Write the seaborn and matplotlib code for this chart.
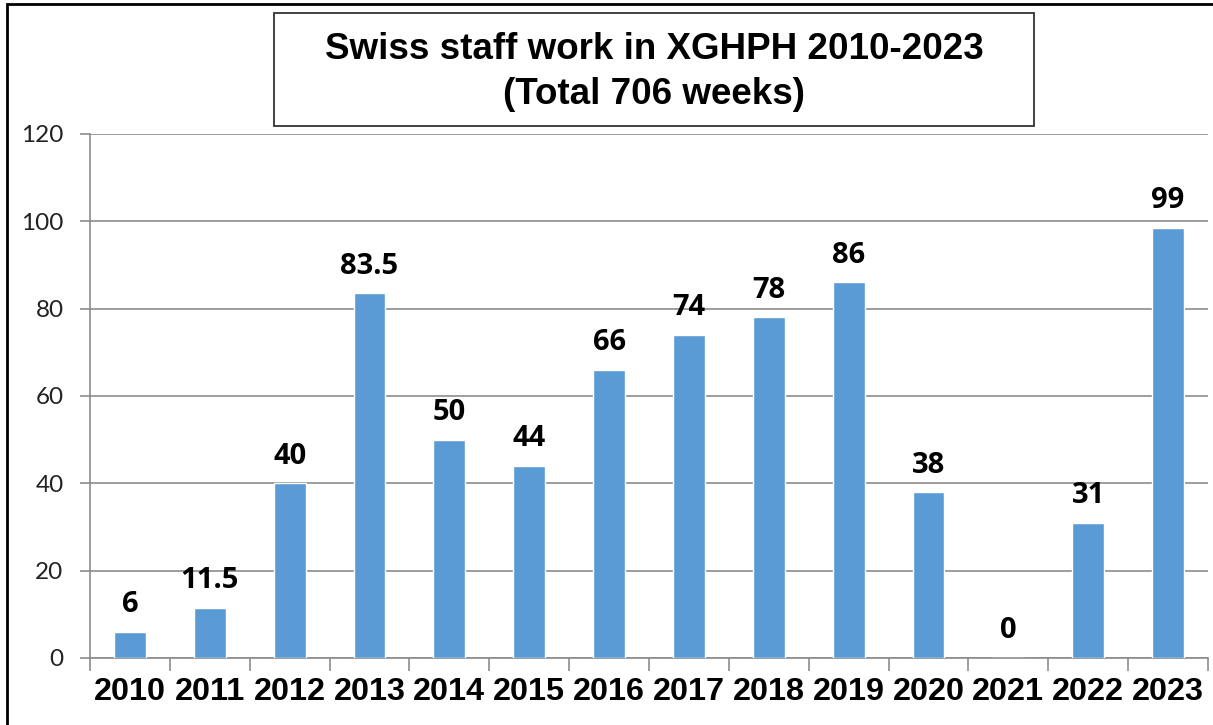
import matplotlib
matplotlib.use("Agg")
import matplotlib.pyplot as plt
import seaborn as sns
import pandas as pd
from matplotlib.patches import Rectangle

years = ["2010", "2011", "2012", "2013", "2014", "2015", "2016",
         "2017", "2018", "2019", "2020", "2021", "2022", "2023"]
weeks = [6, 11.5, 40, 83.5, 50, 44, 66, 74, 78, 86, 38, 0, 31, 98.5]
value_labels = ["6", "11.5", "40", "83.5", "50", "44", "66",
                "74", "78", "86", "38", "0", "31", "99"]
title_text = "Swiss staff work in XGHPH 2010-2023\n(Total 706 weeks)"
y_ticks = [0, 20, 40, 60, 80, 100, 120]

sns.set_theme(style="white")
plt.rcParams['font.family'] = ['Liberation Sans', 'DejaVu Sans']

df = pd.DataFrame({"year": years, "weeks": weeks})

W, H = 1213, 725
fig = plt.figure(figsize=(W / 100, H / 100), dpi=100)
ax = fig.add_axes([90 / W, 1 - 658 / H, (1208 - 90) / W, (658 - 134) / H])

sns.barplot(data=df, x="year", y="weeks", color="#5B9BD5", width=0.4,
            saturation=1, ax=ax, zorder=3)

ax.set_ylim(0, 120)
ax.set_xlim(-0.5, len(years) - 0.5)
ax.set_yticks(y_ticks)
ax.set_yticklabels([str(t) for t in y_ticks], fontsize=17.5, color="#222222",
                   family=["Lato", "DejaVu Sans"])
ax.yaxis.grid(True, color="#8c8c8c", linewidth=1.2, zorder=0)
ax.set_axisbelow(True)
ax.set_xlabel("")
ax.set_ylabel("")

for s in ["top", "right"]:
    ax.spines[s].set_visible(False)
for s in ["left", "bottom"]:
    ax.spines[s].set_color("#8c8c8c")
    ax.spines[s].set_linewidth(1.2)

ax.tick_params(axis="y", which="major", length=7, width=1.2, color="#8c8c8c",
               direction="out", pad=12, left=True)
ax.set_xticks(range(len(years)))
ax.set_xticklabels(years, fontsize=23.3, fontweight="bold", color="black")
ax.tick_params(axis="x", which="major", length=0, pad=14)
ax.set_xticks([i - 0.5 for i in range(len(years) + 1)], minor=True)
ax.tick_params(axis="x", which="minor", length=9, width=1.2, color="#8c8c8c",
               direction="out", bottom=True)

for i, (v, lab) in enumerate(zip(weeks, value_labels)):
    ax.annotate(lab, (i, v), xytext=(0, 9), textcoords="offset points",
                ha="center", va="bottom", fontsize=21, fontweight="bold",
                color="black", family=["Open Sans", "DejaVu Sans"])

# title box
fig.patches.append(Rectangle((274 / W, 1 - 126 / H), (1034 - 274) / W, (126 - 13) / H,
                             transform=fig.transFigure, fill=False,
                             edgecolor="#333333", linewidth=1.3))
fig.text(654 / W, 1 - 72 / H, title_text, ha="center", va="center",
         fontsize=26.5, fontweight="bold", color="black", linespacing=1.38)

# outer border (left and top visible)
fig.patches.append(Rectangle((7 / W, -0.05), 1.1, 1 - 4 / H + 0.05,
                             transform=fig.transFigure, fill=False,
                             edgecolor="black", linewidth=2))

fig.savefig("out.png", dpi=100)
